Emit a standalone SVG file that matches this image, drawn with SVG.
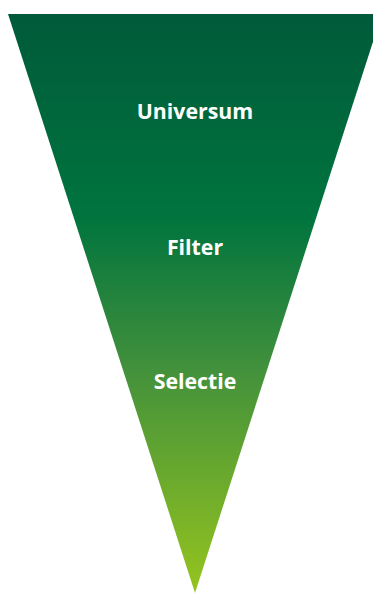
<svg xmlns="http://www.w3.org/2000/svg" width="373" height="595" viewBox="0 0 373 595">
<defs>
<linearGradient id="g" x1="0" y1="14" x2="0" y2="593" gradientUnits="userSpaceOnUse">
<stop offset="0" stop-color="#005a3a"/>
<stop offset="0.35" stop-color="#00743e"/>
<stop offset="0.6" stop-color="#3f8f3c"/>
<stop offset="1" stop-color="#95c41f"/>
</linearGradient>
<style>.t{font-family:"Open Sans","Liberation Sans",sans-serif;font-weight:bold;font-size:21.3px;fill:#fff;text-anchor:middle}</style>
</defs>
<g id="funnel"><polygon points="8,14 382,14 195,593" fill="url(#g)"/></g>
<g id="universum"><text class="t" x="195" y="119">Universum</text></g>
<g id="filter"><text class="t" x="195" y="255">Filter</text></g>
<g id="selectie"><text class="t" x="195" y="389">Selectie</text></g>
<g id="connectors"/>
</svg>
